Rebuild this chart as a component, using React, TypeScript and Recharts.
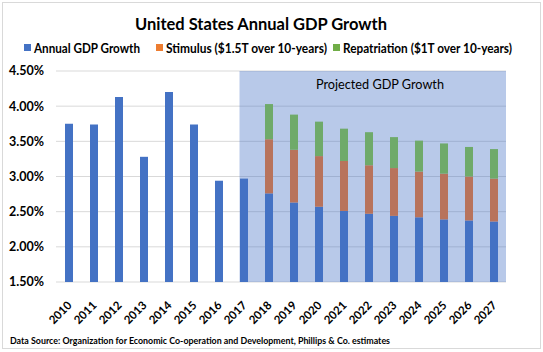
import React from 'react';
import {
  BarChart,
  Bar,
  XAxis,
  YAxis,
  CartesianGrid,
  ReferenceArea,
} from 'recharts';

const years = ['2010', '2011', '2012', '2013', '2014', '2015', '2016', '2017', '2018', '2019', '2020', '2021', '2022', '2023', '2024', '2025', '2026', '2027'];
const annualGrowth = [3.75, 3.74, 4.13, 3.28, 4.2, 3.74, 2.94, 2.97, 2.76, 2.63, 2.57, 2.51, 2.47, 2.44, 2.42, 2.39, 2.375, 2.36];
const stimulus = [null, null, null, null, null, null, null, null, 0.77, 0.75, 0.72, 0.71, 0.69, 0.68, 0.65, 0.65, 0.625, 0.61];
const repatriation = [null, null, null, null, null, null, null, null, 0.5, 0.5, 0.49, 0.46, 0.47, 0.44, 0.44, 0.43, 0.42, 0.42];
const yTicks = [1.5, 2, 2.5, 3, 3.5, 4, 4.5];

const data = years.map((year, i) => ({
  year,
  annual: annualGrowth[i],
  stimulus: stimulus[i],
  repatriation: repatriation[i],
}));

const W = 543;
const H = 352;
const PLOT_LEFT = 56;
const PLOT_RIGHT = 506;
const BAR_SIZE = 8;
const bandOffset = ((PLOT_RIGHT - PLOT_LEFT) / years.length - BAR_SIZE) / 2;

const FONT = 'Lato, "Open Sans", sans-serif';

function YearTick({ x, y, payload }: { x?: number; y?: number; payload?: { value: string } }) {
  const px = (x ?? 0) + 4;
  const py = (y ?? 0) + 16;
  return (
    <text
      x={px}
      y={py}
      transform={`rotate(-45, ${px}, ${py})`}
      textAnchor="end"
      fontSize={11.5}
      fontWeight={700}
      fill="#000"
      fontFamily={FONT}
    >
      {payload?.value}
    </text>
  );
}

function ShadeShape(props: { x?: number; y?: number; width?: number; height?: number }) {
  const x = (props.x ?? 0) + bandOffset;
  return (
    <rect
      x={x}
      y={props.y}
      width={(props.width ?? 0) - bandOffset}
      height={props.height}
      fill="#4472C4"
      fillOpacity={0.38}
    />
  );
}

const legendItems = [
  { label: 'Annual GDP Growth', color: '#4472C4', x: 24, w: 106 },
  { label: 'Stimulus ($1.5T over 10-years)', color: '#ED7D31', x: 156, w: 161 },
  { label: 'Repatriation ($1T over 10-years)', color: '#70AD47', x: 333, w: 169 },
];

export default function App() {
  return (
    <div style={{ position: 'absolute', left: 0, top: 0, width: W, height: H, background: '#fff' }}>
      <BarChart
        width={W}
        height={H}
        data={data}
        margin={{ top: 71, right: W - PLOT_RIGHT, left: 6, bottom: 30 }}
      >
        <CartesianGrid stroke="#D9D9D9" vertical={false} />
        <ReferenceArea x1="2017" x2="2027" shape={<ShadeShape />} ifOverflow="visible" />
        <XAxis
          dataKey="year"
          interval={0}
          height={40}
          axisLine={false}
          tickLine={false}
          tick={<YearTick />}
        />
        <YAxis
          width={50}
          domain={[1.5, 4.5]}
          ticks={yTicks}
          allowDataOverflow
          axisLine={false}
          tickLine={false}
          tickMargin={6}
          tickFormatter={(v: number) => `${v.toFixed(2)}%`}
          tick={{ fill: '#000', fontSize: 12.5, fontWeight: 700, fontFamily: FONT }}
        />
        <Bar dataKey="annual" stackId="g" fill="#4472C4" barSize={BAR_SIZE} isAnimationActive={false} />
        <Bar dataKey="stimulus" stackId="g" fill="#B8735C" barSize={BAR_SIZE} isAnimationActive={false} />
        <Bar dataKey="repatriation" stackId="g" fill="#6FAA6A" barSize={BAR_SIZE} isAnimationActive={false} />
      </BarChart>
      <svg
        width={W}
        height={H}
        style={{ position: 'absolute', left: 0, top: 0, pointerEvents: 'none' }}
        fontFamily={FONT}
      >
        <rect x={2.5} y={2.5} width={538} height={346} fill="none" stroke="#D9D9D9" />
        <text x={261} y={30} textAnchor="middle" fontSize={17} fontWeight={700} fill="#000" textLength={252} lengthAdjust="spacingAndGlyphs">
          United States Annual GDP Growth
        </text>
        {legendItems.map((item) => (
          <g key={item.label}>
            <rect x={item.x} y={44} width={7} height={7} fill={item.color} />
            <text x={item.x + 10} y={53} fontSize={12.5} fontWeight={700} fill="#000" textLength={item.w} lengthAdjust="spacingAndGlyphs">
              {item.label}
            </text>
          </g>
        ))}
        <text x={380} y={89} textAnchor="middle" fontSize={13} fill="#000" textLength={128} lengthAdjust="spacingAndGlyphs">
          Projected GDP Growth
        </text>
        <text x={10} y={344} fontSize={10} fontWeight={700} fill="#000" textLength={380} lengthAdjust="spacingAndGlyphs">
          Data Source: Organization for Economic Co-operation and Development, Phillips &amp; Co. estimates
        </text>
      </svg>
    </div>
  );
}
